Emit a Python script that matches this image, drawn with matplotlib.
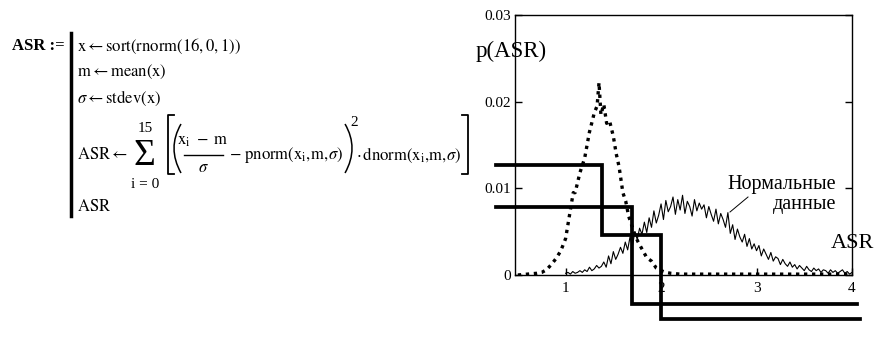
import numpy as np
import matplotlib
matplotlib.use('Agg')
import matplotlib.pyplot as plt
from matplotlib.path import Path
from matplotlib.patches import PathPatch

plt.rcParams['font.family'] = ['Liberation Serif', 'DejaVu Serif']
plt.rcParams['mathtext.fontset'] = 'stix'

# dotted distribution (ASR on test data)
dot_x = [0.50, 0.60, 0.70, 0.75, 0.80, 0.85, 0.90, 0.95, 1.00, 1.05, 1.08, 1.10,
         1.15, 1.20, 1.25, 1.28, 1.30, 1.33, 1.35, 1.37, 1.40, 1.43, 1.46, 1.50,
         1.53, 1.56, 1.60, 1.63, 1.66, 1.70, 1.73, 1.76, 1.80, 1.85, 1.90, 1.95,
         2.00, 2.05, 2.10, 2.20, 2.50, 3.00, 3.50, 4.00]
dot_y = [0.0000, 0.0001, 0.0002, 0.0003, 0.0006, 0.0012, 0.0019, 0.0028, 0.0042, 0.0075, 0.0095, 0.0095,
         0.0118, 0.0135, 0.0165, 0.0178, 0.0187, 0.0195, 0.0222, 0.0185, 0.0197, 0.0175, 0.0178, 0.0160,
         0.0140, 0.0125, 0.0095, 0.0085, 0.0068, 0.0055, 0.0045, 0.0038, 0.0030, 0.0020, 0.0016, 0.0008,
         0.0005, 0.0003, 0.0002, 0.0001, 0.0001, 0.0001, 0.0001, 0.0001]

# noisy solid distribution ("normal data"), bins from 1.0 to 4.0
norm_start, norm_end = 1.0, 4.0
norm_y = [0.0002, 0.0003, 0.0001, 0.0004, 0.0002, 0.0003, 0.0005, 0.0003, 0.0006, 0.0004,
          0.0009, 0.0005, 0.0007, 0.0011, 0.0008, 0.0010, 0.0015, 0.0009, 0.0022, 0.0013,
          0.0027, 0.0018, 0.0024, 0.0032, 0.0025, 0.0038, 0.0029, 0.0044, 0.0033, 0.0050,
          0.0041, 0.0054, 0.0047, 0.0061, 0.0049, 0.0066, 0.0055, 0.0074, 0.0060, 0.0069,
          0.0082, 0.0064, 0.0086, 0.0073, 0.0079, 0.0090, 0.0070, 0.0087, 0.0075, 0.0092,
          0.0071, 0.0085, 0.0079, 0.0068, 0.0087, 0.0074, 0.0083, 0.0076, 0.0081, 0.0066,
          0.0079, 0.0070, 0.0062, 0.0076, 0.0059, 0.0071, 0.0064, 0.0055, 0.0072, 0.0048,
          0.0058, 0.0041, 0.0053, 0.0044, 0.0038, 0.0047, 0.0033, 0.0042, 0.0030, 0.0036,
          0.0028, 0.0034, 0.0022, 0.0030, 0.0024, 0.0018, 0.0026, 0.0016, 0.0021, 0.0019,
          0.0012, 0.0018, 0.0013, 0.0010, 0.0015, 0.0009, 0.0012, 0.0007, 0.0011, 0.0008,
          0.0005, 0.0010, 0.0006, 0.0004, 0.0008, 0.0005, 0.0007, 0.0003, 0.0006, 0.0005,
          0.0002, 0.0006, 0.0003, 0.0005, 0.0002, 0.0004, 0.0006, 0.0002, 0.0004, 0.0001,
          0.0003]

# thick step lines (thresholds)
step1_x = [0.27, 1.38, 1.38, 2.00, 2.00, 4.08]
step1_y = [0.0127, 0.0127, 0.0046, 0.0046, -0.0051, -0.0051]
step2_x = [0.27, 1.70, 1.70, 4.05]
step2_y = [0.0079, 0.0079, -0.00335, -0.00335]

yticks = [0, 0.01, 0.02, 0.03]
ytick_labels = ['0', '0.01', '0.02', '0.03']
xticks = [1, 2, 3, 4]

W, H = 880, 343
fig = plt.figure(figsize=(8.8, 3.43), dpi=100)

# ---- chart ----
ax = fig.add_axes([515/W, 1-275/H, (852-515)/W, (275-15)/H])
norm_x = np.linspace(norm_start, norm_end, len(norm_y))
ax.plot(norm_x, norm_y, color='black', lw=0.8)
ax.plot(dot_x, dot_y, color='black', lw=2.4, linestyle=(0, (1, 1.4)))
ax.plot(step1_x, step1_y, color='black', lw=2.7, clip_on=False, solid_joinstyle='miter')
ax.plot(step2_x, step2_y, color='black', lw=2.7, clip_on=False, solid_joinstyle='miter')

ax.set_xlim(0.47, 4.0)
ax.set_ylim(0, 0.03)
ax.set_xticks(xticks)
ax.set_xticklabels([str(t) for t in xticks])
ax.set_yticks(yticks)
ax.set_yticklabels(ytick_labels)
ax.tick_params(axis='both', direction='in', length=5, width=1, labelsize=11, colors='black')
ax.tick_params(axis='y', right=True, pad=3)
ax.tick_params(axis='x', pad=5)
for s in ax.spines.values():
    s.set_linewidth(1.0)

# ---- overlay in pixel coordinates ----
ov = fig.add_axes([0, 0, 1, 1], facecolor='none')
ov.set_xlim(0, W)
ov.set_ylim(H, 0)
ov.axis('off')

ov.text(476, 51, 'p(ASR)', fontsize=16.5, va='center', ha='left')
ov.text(874, 243, 'ASR', fontsize=16, va='center', ha='right')
ov.text(836, 184, 'Нормальные', fontsize=14.5, va='center', ha='right')
ov.text(836, 204, 'данные', fontsize=14.5, va='center', ha='right')
ov.plot([730, 748], [212, 197], color='black', lw=0.7)

# Mathcad program
fs = 12
ov.text(12, 46, 'ASR :=', fontsize=fs, fontweight='bold', va='center', ha='left')
ov.plot([71, 71], [33, 216], color='black', lw=2.5)
ov.text(77, 46, r'$\mathrm{x \leftarrow sort(rnorm(16,0,1))}$', fontsize=fs, va='center', ha='left')
ov.text(77, 72, r'$\mathrm{m \leftarrow mean(x)}$', fontsize=fs, va='center', ha='left')
ov.text(77, 98, r'$\sigma \leftarrow \mathrm{stdev(x)}$', fontsize=fs, va='center', ha='left')
ov.text(77, 207, r'$\mathrm{ASR}$', fontsize=fs, va='center', ha='left')

# sum row, laid out piece by piece
ry = 155
rend = fig.canvas.get_renderer()


def right_edge(t):
    return t.get_window_extent(rend).x1


def paren(x0, bulge):
    # big round bracket drawn as a curve
    p = Path([(x0, 124), (x0 + bulge, 148), (x0, 173)], [Path.MOVETO, Path.CURVE3, Path.CURVE3])
    ov.add_patch(PathPatch(p, fill=False, lw=1.1, color='black'))


ov.text(77, ry, r'$\mathrm{ASR} \leftarrow$', fontsize=fs, va='center', ha='left')
ov.text(144, ry + 1, 'Σ', fontsize=27, va='center', ha='center')
ov.text(145, 128, '15', fontsize=11, va='center', ha='center')
ov.text(145, 184, 'i = 0', fontsize=11, va='center', ha='center')
ov.plot([174, 168, 168, 174], [115, 115, 174, 174], color='black', lw=1.3)
paren(181, -14)
ov.text(203, 141, r'$\mathrm{x_i\ -\ m}$', fontsize=fs, va='center', ha='center')
ov.plot([184, 223], [155, 155], color='black', lw=1.0)
ov.text(203, 168, r'$\sigma$', fontsize=fs, va='center', ha='center')
t = ov.text(229, ry, r'$-\ \mathrm{pnorm}\left(\mathrm{x_i,\!m,\!}\sigma\right)$', fontsize=fs, va='center', ha='left')
x = right_edge(t) + 2
paren(x, 14)
ov.text(x + 5, 123, '2', fontsize=11, va='center', ha='left')
t = ov.text(x + 11, ry, r'$\cdot\,\mathrm{dnorm}\left(\mathrm{x_i,\!m,\!}\sigma\right)$', fontsize=fs, va='center', ha='left')
x = right_edge(t) + 7
ov.plot([x - 6, x, x, x - 6], [115, 115, 174, 174], color='black', lw=1.3)

plt.savefig('out.png', dpi=100)
